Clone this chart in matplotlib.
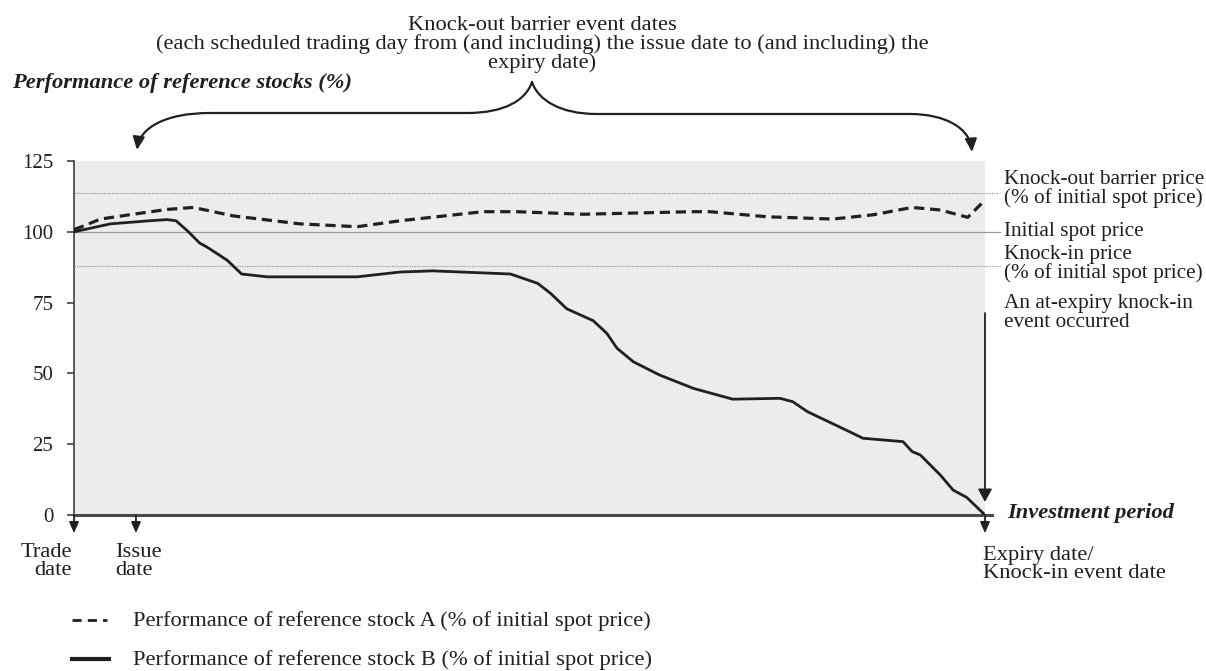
import matplotlib
matplotlib.use("Agg")
import matplotlib.pyplot as plt
from matplotlib.path import Path
from matplotlib.patches import FancyArrowPatch
from matplotlib.transforms import Affine2D

# ---- data (time axis: 0 = trade date, 100 = expiry date) ----
time_a = [0, 0.7, 2.9, 6.5, 10.2, 13.1, 17.5, 24.8, 31.1, 35.8, 44.9, 48.6,
          55.9, 67.9, 69.8, 76.1, 83.3, 87.7, 92.0, 95.1, 98.1, 100]
stock_a = [100.8, 101.6, 104.5, 106.2, 107.9, 108.6, 105.6, 102.8, 101.8, 103.9,
           107.1, 107.1, 106.2, 107.1, 107.1, 105.3, 104.5, 106.0, 108.6, 107.7,
           105.1, 111.2]

time_b = [0, 4.0, 8.3, 10.2, 11.2, 12.5, 13.8, 14.6, 16.8, 18.4, 21.2, 31.1, 35.8,
          39.4, 47.9, 50.9, 52.3, 54.1, 57.0, 58.5, 59.6, 61.4, 64.3, 68.0,
          72.3, 77.5, 78.9, 80.5, 85.2, 86.6, 91.0, 92.0, 92.9, 95.1, 96.5,
          98.0, 100]
stock_b = [100, 102.8, 103.9, 104.3, 103.9, 100.2, 96.0, 94.6, 90.0, 85.1, 84.1, 84.1,
           85.8, 86.2, 85.1, 81.8, 78.3, 72.8, 68.6, 64.1, 58.9, 54.1, 49.4,
           44.7, 40.9, 41.2, 40.0, 36.5, 29.3, 27.1, 25.9, 22.4, 21.2, 14.1,
           8.8, 6.2, 0]

knock_out = 113.6
initial_spot = 100
knock_in = 88
y_ticks = [0, 25, 50, 75, 100, 125]
trade_date, issue_date, expiry_date = 0, 6.8, 100

title_lines = ['Knock-out barrier event dates',
               '(each scheduled trading day from (and including) the issue date to (and including) the',
               'expiry date)']
level_labels = ['Knock-out barrier price', '(% of initial spot price)', 'Initial spot price',
                'Knock-in price', '(% of initial spot price)', 'An at-expiry knock-in',
                'event occurred']
legend_labels = ['Performance of reference stock A (% of initial spot price)',
                 'Performance of reference stock B (% of initial spot price)']

INK = '#231f20'
plt.rcParams['font.family'] = ['Liberation Serif', 'DejaVu Serif']
plt.rcParams['font.size'] = 16.2

W, H = 1206, 671
fig = plt.figure(figsize=(W / 100, H / 100), dpi=100)
# reference-pixel transform for the layout items around the chart
PX = Affine2D().scale(1 / W, -1 / H).translate(0, 1) + fig.transFigure

ax = fig.add_axes([74 / W, 1 - 515 / H, 911 / W, 354 / H])
ax.set_facecolor('#ececec')
ax.set_xlim(0, 100)
ax.set_ylim(0, 125)
for s in ['top', 'right', 'bottom']:
    ax.spines[s].set_visible(False)
ax.spines['left'].set_color('#333333')
ax.spines['left'].set_linewidth(1.1)
ax.set_xticks([])
ax.set_yticks(y_ticks)
ax.tick_params(axis='y', length=5, width=1.1, color='#333333', pad=10,
               labelsize=15, labelcolor=INK)

# level lines
ax.plot([0, 101.6], [knock_out] * 2, color='#9a9a9a', lw=0.9, ls=(0, (1, 1)), clip_on=False)
ax.plot([0, 101.6], [initial_spot] * 2, color='#9a9a9a', lw=0.9, clip_on=False)
ax.plot([0, 101.6], [knock_in] * 2, color='#9a9a9a', lw=0.9, ls=(0, (1, 1)), clip_on=False)

# x axis line
ax.plot([0, 100.8], [0, 0], color='#4a4a4a', lw=2.2, clip_on=False, zorder=3)

# stocks
ax.plot(time_a, stock_a, color=INK, lw=2.3, ls=(0, (3.2, 1.8)), zorder=4)
ax.plot(time_b, stock_b, color=INK, lw=2.0, solid_joinstyle='round', zorder=4)

# level labels (baselines in reference pixels)
for txt, yb in zip(level_labels, [184, 203, 236, 259, 278, 308, 327]):
    fig.text(1004, yb, txt, transform=PX, ha='left', va='baseline',
             color=INK, fontsize=15.3)

# at-expiry knock-in arrow
ax.annotate('', xy=(expiry_date, 4.6), xytext=(expiry_date, 71.3), annotation_clip=False,
            arrowprops=dict(arrowstyle='-|>,head_length=0.55,head_width=0.3',
                            mutation_scale=14, color=INK, lw=1.3, shrinkA=0, shrinkB=0))

# date arrows below the axis
for d in [trade_date, issue_date, expiry_date]:
    ax.annotate('', xy=(d, -6.4), xytext=(d, 0), annotation_clip=False,
                arrowprops=dict(arrowstyle='-|>,head_length=0.5,head_width=0.22',
                                mutation_scale=13, color=INK, lw=1.3,
                                shrinkA=0, shrinkB=0))

fig.text(72, 557, 'Trade', transform=PX, ha='right', va='baseline', color=INK)
fig.text(72, 575, 'date', transform=PX, ha='right', va='baseline', color=INK)
fig.text(115, 557, 'Issue', transform=PX, ha='left', va='baseline', color=INK)
fig.text(115, 575, 'date', transform=PX, ha='left', va='baseline', color=INK)
fig.text(983, 560, 'Expiry date/', transform=PX, ha='left', va='baseline', color=INK)
fig.text(983, 578, 'Knock-in event date', transform=PX, ha='left', va='baseline', color=INK)
fig.text(1007, 518, 'Investment period', transform=PX, ha='left', va='baseline',
         fontweight='bold', fontstyle='italic', color=INK)

# titles
for txt, yb in zip(title_lines, [30, 49, 68]):
    fig.text(542, yb, txt, transform=PX, ha='center', va='baseline', color=INK)
fig.text(12, 88, 'Performance of reference stocks (%)', transform=PX, ha='left',
         va='baseline', fontweight='bold', fontstyle='italic', color=INK)

# brace with arrows
left_half = Path([(532, 82), (526, 100), (505, 113), (467, 113), (210, 113),
                  (165, 113), (140, 128), (137, 150)],
                 [Path.MOVETO, Path.CURVE4, Path.CURVE4, Path.CURVE4, Path.LINETO,
                  Path.CURVE4, Path.CURVE4, Path.CURVE4])
right_half = Path([(532, 82), (538, 100), (560, 114), (597, 114), (910, 114),
                   (945, 114), (970, 128), (972, 152)],
                  [Path.MOVETO, Path.CURVE4, Path.CURVE4, Path.CURVE4, Path.LINETO,
                   Path.CURVE4, Path.CURVE4, Path.CURVE4])
for p in [left_half, right_half]:
    fig.add_artist(FancyArrowPatch(path=p, transform=PX,
                                   arrowstyle='-|>,head_length=0.55,head_width=0.25',
                                   mutation_scale=14, color=INK, lw=1.6))

# legend
fig.add_artist(plt.Line2D([72, 107], [620, 620], transform=PX, color=INK, lw=2.0,
                          ls=(0, (3.3, 2.2))))
fig.add_artist(plt.Line2D([72, 109], [659, 659], transform=PX, color=INK, lw=3.0))
for txt, yb in zip(legend_labels, [626, 665]):
    fig.text(133, yb, txt, transform=PX, ha='left', va='baseline', color=INK)

fig.savefig('out.png', dpi=100)
